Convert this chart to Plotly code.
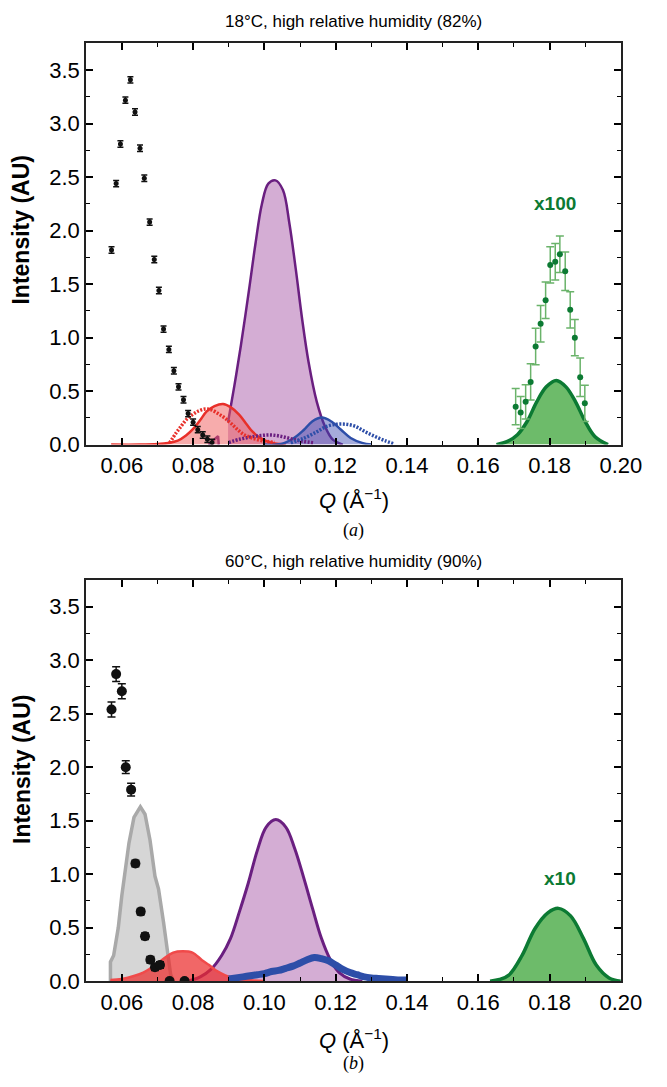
import plotly.graph_objects as go

# ---------------- Panel (a): 18 C, 82% RH ----------------
a_black_q = [0.0571, 0.0584, 0.0596, 0.0610, 0.0624, 0.0637, 0.0651, 0.0663, 0.0678, 0.0691,
             0.0704, 0.0717, 0.0732, 0.0746, 0.0759, 0.0773, 0.0786, 0.0800, 0.0813, 0.0827, 0.0840, 0.0853]
a_black_i = [1.82, 2.44, 2.81, 3.22, 3.41, 3.11, 2.77, 2.49, 2.08, 1.73,
             1.44, 1.08, 0.89, 0.69, 0.54, 0.42, 0.29, 0.21, 0.14, 0.09, 0.05, 0.02]
a_black_err = 0.03

a_red_fit_q = [0.0570, 0.0650, 0.0700, 0.0730, 0.0757, 0.0780, 0.0802, 0.0820, 0.0838, 0.0860,
               0.0884, 0.0905, 0.0929, 0.0950, 0.0966, 0.0985, 0.1002, 0.1030, 0.1060]
a_red_fit_i = [0.0, 0.0, 0.005, 0.015, 0.037, 0.085, 0.154, 0.23, 0.31, 0.36,
               0.38, 0.35, 0.28, 0.19, 0.123, 0.07, 0.037, 0.01, 0.0]
a_red_dat_q = [0.0734, 0.0752, 0.0766, 0.0780, 0.0798, 0.0816, 0.0834, 0.0852, 0.0870, 0.0888,
               0.0906, 0.0925, 0.0943, 0.0966, 0.0993, 0.1029]
a_red_dat_i = [0.016, 0.108, 0.17, 0.23, 0.28, 0.315, 0.333, 0.324, 0.29, 0.25,
               0.20, 0.139, 0.093, 0.062, 0.037, 0.021]

a_pur_spike_q = [0.0843, 0.0870, 0.0872]
a_pur_spike_i = [0.0, 0.08, 0.0]
a_pur_fit_q = [0.0898, 0.0916, 0.0934, 0.0957, 0.0975, 0.0993, 0.1011, 0.1031, 0.1052, 0.1070,
               0.1088, 0.1106, 0.1124, 0.1147, 0.1170, 0.1192, 0.1220]
a_pur_fit_i = [0.21, 0.556, 0.926, 1.45, 1.88, 2.25, 2.44, 2.47, 2.38, 2.07,
               1.64, 1.17, 0.77, 0.40, 0.17, 0.046, 0.0]
a_pur_dat_q = [0.0900, 0.0930, 0.0960, 0.0990, 0.1020, 0.1050, 0.1080, 0.1110, 0.1140]
a_pur_dat_i = [0.02, 0.05, 0.07, 0.085, 0.09, 0.075, 0.05, 0.03, 0.015]

a_blue_fit_q = [0.1000, 0.1047, 0.1083, 0.1111, 0.1134, 0.1161, 0.1188, 0.1215, 0.1242, 0.1274, 0.1301]
a_blue_fit_i = [0.0, 0.006, 0.062, 0.139, 0.216, 0.253, 0.216, 0.139, 0.062, 0.016, 0.0]
a_blue_dat_q = [0.1074, 0.1111, 0.1147, 0.1174, 0.1202, 0.1229, 0.1256, 0.1283, 0.1310, 0.1338, 0.1365]
a_blue_dat_i = [0.016, 0.06, 0.12, 0.17, 0.19, 0.19, 0.17, 0.12, 0.077, 0.037, 0.006]

a_green_fit_q = [0.1651, 0.1682, 0.1710, 0.1737, 0.1764, 0.1791, 0.1819, 0.1846, 0.1873, 0.1900, 0.1927, 0.1964]
a_green_fit_i = [0.0, 0.03, 0.093, 0.216, 0.40, 0.54, 0.60, 0.54, 0.40, 0.216, 0.077, 0.0]
a_green_dat_q = [0.1705, 0.1719, 0.1733, 0.1747, 0.1761, 0.1775, 0.1789, 0.1802, 0.1816, 0.1829,
                 0.1844, 0.1858, 0.1871, 0.1886, 0.1899]
a_green_dat_i = [0.355, 0.30, 0.40, 0.586, 0.917, 1.13, 1.35, 1.68, 1.71, 1.78,
                 1.62, 1.26, 1.00, 0.63, 0.386]
a_green_err = [0.17, 0.15, 0.16, 0.17, 0.17, 0.17, 0.17, 0.17, 0.17, 0.17,
               0.18, 0.17, 0.17, 0.18, 0.17]

# ---------------- Panel (b): 60 C, 90% RH ----------------
b_black_q = [0.0571, 0.0584, 0.0600, 0.0611, 0.0626, 0.0638, 0.0653, 0.0665, 0.0680, 0.0693, 0.0707, 0.0734, 0.0776]
b_black_i = [2.54, 2.87, 2.71, 2.00, 1.79, 1.10, 0.65, 0.42, 0.20, 0.13, 0.15, 0.0, 0.0]
b_black_err = [0.07, 0.07, 0.07, 0.06, 0.06, 0.03, 0.03, 0.03, 0.03, 0.03, 0.03, 0.02, 0.02]

b_gray_q = [0.0568, 0.0568, 0.0577, 0.0590, 0.0600, 0.0610, 0.0620, 0.0634, 0.0652, 0.0665,
            0.0679, 0.0693, 0.0703, 0.0717, 0.0728, 0.0737, 0.0745]
b_gray_i = [0.0, 0.18, 0.24, 0.50, 0.80, 1.05, 1.29, 1.53, 1.63, 1.56,
            1.32, 0.98, 0.86, 0.55, 0.28, 0.06, 0.0]

b_red_q = [0.0568, 0.0600, 0.0636, 0.0660, 0.0681, 0.0700, 0.0717, 0.0744, 0.0771, 0.0798,
           0.0825, 0.0845, 0.0862, 0.0880, 0.0898, 0.0925, 0.0952, 0.0997]
b_red_i = [0.01, 0.02, 0.05, 0.08, 0.12, 0.165, 0.21, 0.267, 0.28, 0.267,
           0.196, 0.15, 0.104, 0.07, 0.043, 0.02, 0.01, 0.0]

b_pur_q = [0.0785, 0.0820, 0.0850, 0.0880, 0.0905, 0.0930, 0.0955, 0.0980, 0.1005, 0.1032,
           0.1060, 0.1085, 0.1110, 0.1135, 0.1160, 0.1185, 0.1210, 0.1240, 0.1275]
b_pur_i = [0.0, 0.04, 0.11, 0.24, 0.40, 0.65, 0.92, 1.22, 1.44, 1.51,
           1.44, 1.24, 0.97, 0.68, 0.40, 0.20, 0.08, 0.02, 0.0]

b_blue_q = [0.0900, 0.0920, 0.0940, 0.0960, 0.0980, 0.1000, 0.1020, 0.1040, 0.1060, 0.1080,
            0.1100, 0.1120, 0.1140, 0.1160, 0.1180, 0.1200, 0.1220, 0.1240, 0.1260, 0.1280,
            0.1300, 0.1320, 0.1340, 0.1360, 0.1380, 0.1400]
b_blue_i = [0.02, 0.03, 0.04, 0.05, 0.06, 0.07, 0.09, 0.10, 0.12, 0.14,
            0.17, 0.20, 0.22, 0.21, 0.19, 0.15, 0.11, 0.08, 0.06, 0.04,
            0.03, 0.025, 0.02, 0.015, 0.01, 0.01]

b_green_q = [0.1633, 0.1660, 0.1687, 0.1723, 0.1759, 0.1796, 0.1825, 0.1859, 0.1895, 0.1931, 0.1967, 0.2000]
b_green_i = [0.0, 0.015, 0.06, 0.24, 0.49, 0.64, 0.68, 0.61, 0.40, 0.15, 0.03, 0.0]

x_tick_vals = [0.06, 0.08, 0.10, 0.12, 0.14, 0.16, 0.18, 0.20]
x_tick_text = ["0.06", "0.08", "0.10", "0.12", "0.14", "0.16", "0.18", "0.20"]
y_tick_vals = [0.0, 0.5, 1.0, 1.5, 2.0, 2.5, 3.0, 3.5]
y_tick_text = ["0.0", "0.5", "1.0", "1.5", "2.0", "2.5", "3.0", "3.5"]

title_a = "18°C, high relative humidity (82%)"
title_b = "60°C, high relative humidity (90%)"

# ---------------- colours ----------------
C_BLACK = "#111111"
C_RED = "#e8302a"
C_RED_FILL_A = "rgba(240,90,90,0.50)"
C_RED_FILL_B = "rgba(236,45,45,0.72)"
C_PUR = "#6a1f80"
C_PUR_FILL = "rgba(200,150,200,0.78)"
C_BLUE = "#2d4ea8"
C_BLUE_FILL = "rgba(55,70,175,0.45)"
C_GREEN = "#0c7a33"
C_GREEN_FILL = "#6dbb6a"
C_GREEN_ERR = "#6ab36a"
C_GRAY = "#a9a9a9"
C_GRAY_FILL = "#d6d6d6"

W, H = 667, 1087
FONT = "Liberation Sans, Arial, sans-serif"

fig = go.Figure()

def add(tr, panel):
    if panel == "a":
        tr.update(xaxis="x", yaxis="y")
    else:
        tr.update(xaxis="x2", yaxis="y2")
    tr.update(showlegend=False, hoverinfo="skip")
    fig.add_trace(tr)

# ----- panel a -----
add(go.Scatter(x=a_pur_fit_q, y=a_pur_fit_i, mode="lines", line=dict(color=C_PUR, width=2.5, shape="spline"),
               fill="tozeroy", fillcolor=C_PUR_FILL), "a")
add(go.Scatter(x=a_pur_spike_q, y=a_pur_spike_i, mode="lines", line=dict(color=C_PUR, width=2.5),
               fill="tozeroy", fillcolor=C_PUR_FILL), "a")
add(go.Scatter(x=a_red_fit_q, y=a_red_fit_i, mode="lines", line=dict(color=C_RED, width=2.5, shape="spline"),
               fill="tozeroy", fillcolor=C_RED_FILL_A), "a")
add(go.Scatter(x=a_blue_fit_q, y=a_blue_fit_i, mode="lines", line=dict(color=C_BLUE, width=2.5, shape="spline"),
               fill="tozeroy", fillcolor=C_BLUE_FILL), "a")
add(go.Scatter(x=a_pur_dat_q, y=a_pur_dat_i, mode="lines", line=dict(color=C_PUR, width=3.5, dash="2px,1.5px", shape="spline")), "a")
add(go.Scatter(x=a_red_dat_q, y=a_red_dat_i, mode="lines", line=dict(color=C_RED, width=3.5, dash="2px,1.5px", shape="spline")), "a")
add(go.Scatter(x=a_blue_dat_q, y=a_blue_dat_i, mode="lines", line=dict(color=C_BLUE, width=3.5, dash="2px,1.5px", shape="spline")), "a")
add(go.Scatter(x=a_green_fit_q, y=a_green_fit_i, mode="lines", line=dict(color=C_GREEN, width=3.5, shape="spline"),
               fill="tozeroy", fillcolor=C_GREEN_FILL), "a")
add(go.Scatter(x=a_green_dat_q, y=a_green_dat_i, mode="markers",
               marker=dict(color=C_GREEN, size=6),
               error_y=dict(type="data", array=a_green_err, color=C_GREEN_ERR, thickness=1.5, width=4)), "a")
add(go.Scatter(x=a_black_q, y=a_black_i, mode="markers",
               marker=dict(color=C_BLACK, size=5),
               error_y=dict(type="constant", value=a_black_err, color=C_BLACK, thickness=1.5, width=3)), "a")

# ----- panel b -----
add(go.Scatter(x=b_gray_q, y=b_gray_i, mode="lines", line=dict(color=C_GRAY, width=3.5),
               fill="tozeroy", fillcolor=C_GRAY_FILL), "b")
add(go.Scatter(x=b_pur_q, y=b_pur_i, mode="lines", line=dict(color=C_PUR, width=3, shape="spline"),
               fill="tozeroy", fillcolor=C_PUR_FILL), "b")
add(go.Scatter(x=b_red_q, y=b_red_i, mode="lines", line=dict(color="#f04a4a", width=2.5, shape="spline"),
               fill="tozeroy", fillcolor=C_RED_FILL_B), "b")
add(go.Scatter(x=b_blue_q, y=b_blue_i, mode="lines", line=dict(color=C_BLUE, width=7, shape="spline")), "b")
add(go.Scatter(x=b_green_q, y=b_green_i, mode="lines", line=dict(color=C_GREEN, width=3.5, shape="spline"),
               fill="tozeroy", fillcolor=C_GREEN_FILL), "b")
add(go.Scatter(x=b_black_q, y=b_black_i, mode="markers",
               marker=dict(color=C_BLACK, size=10),
               error_y=dict(type="data", array=b_black_err, color=C_BLACK, thickness=1.5, width=4)), "b")

# ----- axes -----
xdom = [89 / W, 641 / W]
ydom_a = [1 - 450 / H, 1 - 44 / H]
ydom_b = [1 - 993 / H, 1 - 587 / H]

def xaxis_style(anchor):
    return dict(domain=xdom, anchor=anchor, range=[0.05, 0.20], tickmode="array",
                tickvals=x_tick_vals, ticktext=x_tick_text,
                ticks="inside", ticklen=7, tickwidth=1.5, tickcolor="black",
                showline=True, linecolor="#222", linewidth=2, mirror="ticks",
                showgrid=False, zeroline=False,
                tickfont=dict(family=FONT, size=22, color="black"),
                minor=dict(tickmode="linear", tick0=0.05, dtick=0.01, ticks="inside", ticklen=4,
                           tickwidth=1.2, tickcolor="black", showgrid=False))

def yaxis_style(anchor, dom):
    return dict(domain=dom, anchor=anchor, range=[0, 3.75], tickmode="array",
                tickvals=y_tick_vals, ticktext=y_tick_text,
                ticks="inside", ticklen=7, tickwidth=1.5, tickcolor="black",
                showline=True, linecolor="#222", linewidth=2, mirror="ticks",
                showgrid=False, zeroline=False,
                tickfont=dict(family=FONT, size=22, color="black"),
                minor=dict(tickmode="linear", tick0=0, dtick=0.25, ticks="inside", ticklen=4,
                           tickwidth=1.2, tickcolor="black", showgrid=False))

fig.update_layout(
    width=W, height=H, autosize=False,
    margin=dict(l=0, r=0, t=0, b=0),
    paper_bgcolor="white", plot_bgcolor="white",
    xaxis=xaxis_style("y"), yaxis=yaxis_style("x", ydom_a),
    xaxis2=xaxis_style("y2"), yaxis2=yaxis_style("x2", ydom_b),
)

def ann(text, x, y, size, xref="paper", yref="paper", color="black", family=FONT, angle=0, bold=False):
    if bold:
        text = "<b>" + text + "</b>"
    fig.add_annotation(text=text, x=x, y=y, xref=xref, yref=yref, showarrow=False,
                       font=dict(family=family, size=size, color=color), textangle=angle,
                       xanchor="center", yanchor="middle")

cx = 365 / W
ann(title_a, cx, 1 - 22 / H, 17)
ann(title_b, cx, 1 - 568 / H, 17)
ann("<i>Q</i> (Å<sup>−1</sup>)", cx, 1 - 505 / H, 22)
ann("<i>Q</i> (Å<sup>−1</sup>)", cx, 1 - 1052 / H, 22)
ann("(<i>a</i>)", cx, 1 - 537 / H, 18, family="Liberation Serif, Times New Roman, serif")
ann("(<i>b</i>)", cx, 1 - 1076 / H, 18, family="Liberation Serif, Times New Roman, serif")
ann("Intensity (AU)", 22 / W, 1 - 232 / H, 23, angle=-90, bold=True)
ann("Intensity (AU)", 22 / W, 1 - 778 / H, 23, angle=-90, bold=True)
ann("x100", 0.1814, 2.25, 19, xref="x", yref="y", color=C_GREEN, bold=True)
ann("x10", 0.1829, 0.96, 19, xref="x2", yref="y2", color=C_GREEN, bold=True)

fig.write_html("out.html")
